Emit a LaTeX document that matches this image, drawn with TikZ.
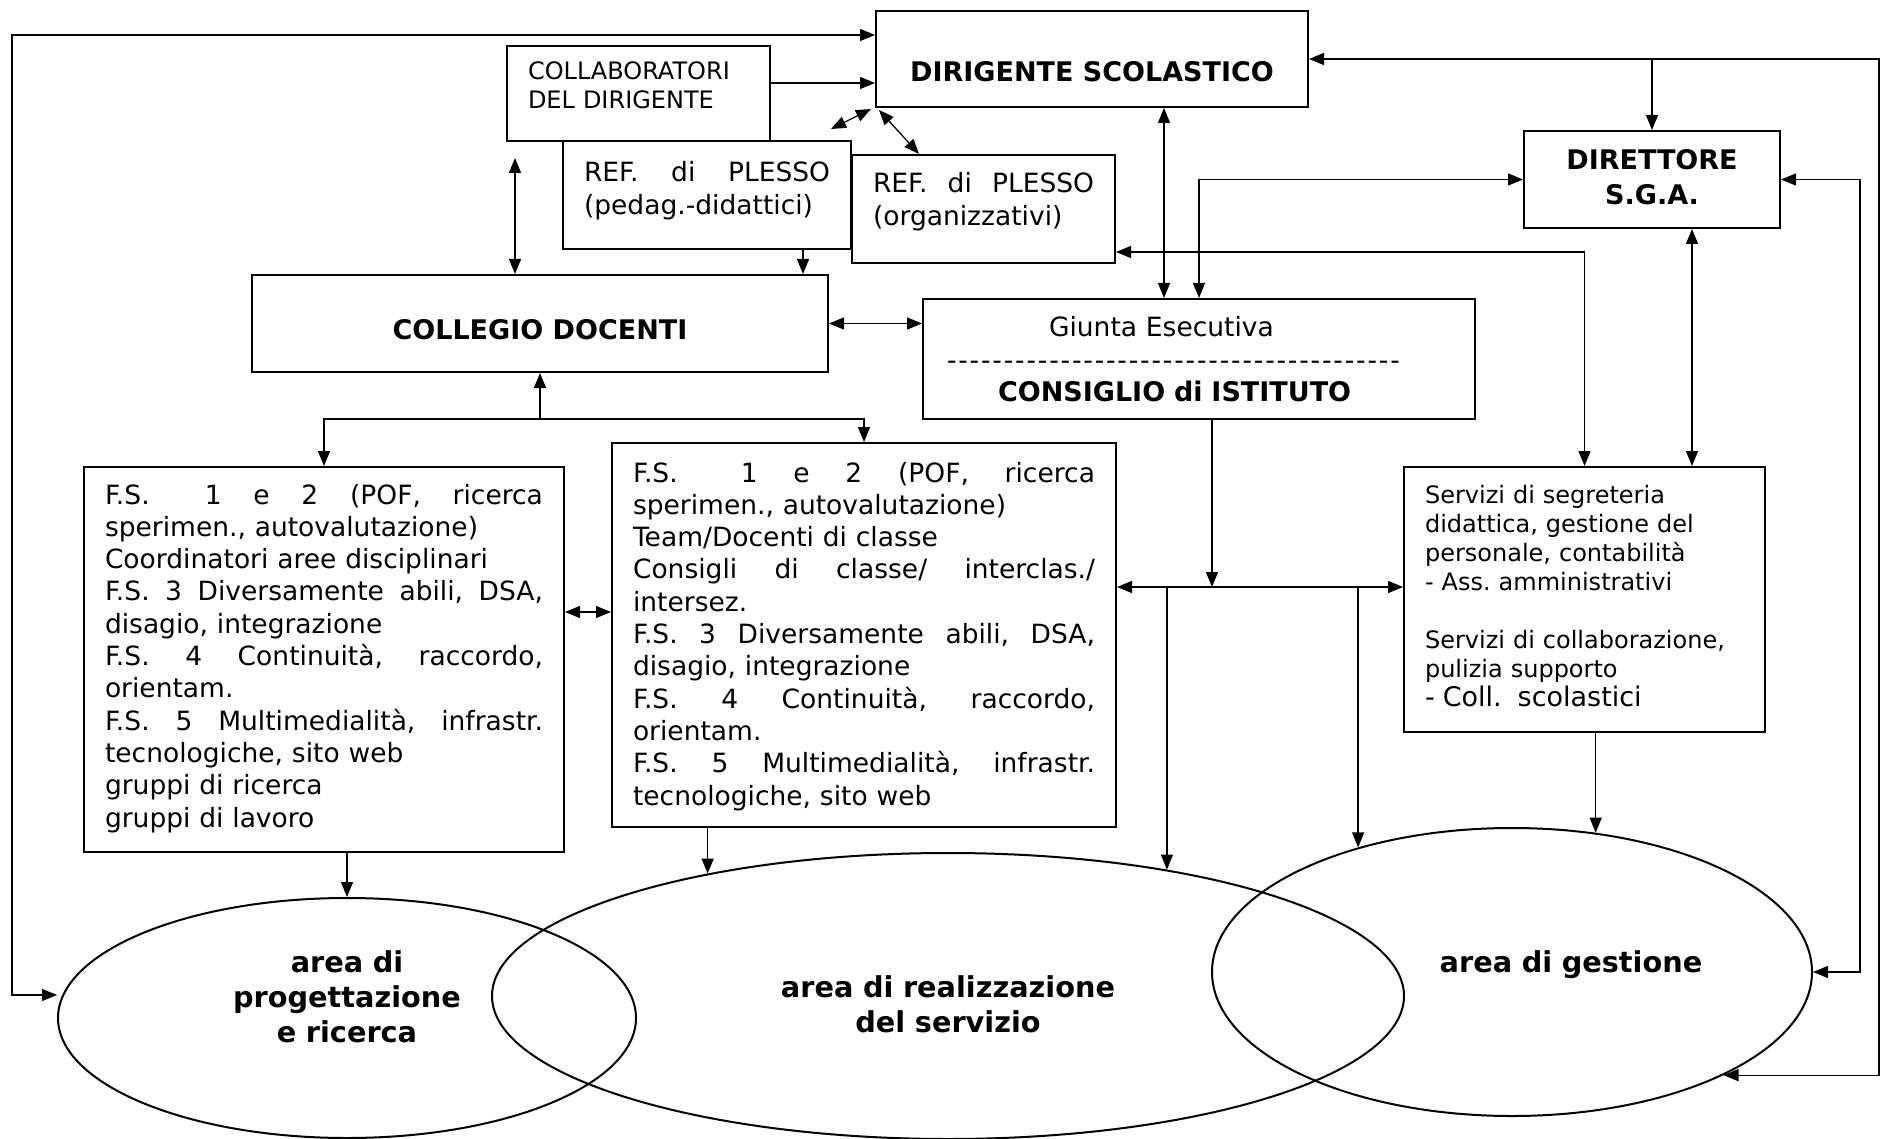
\documentclass[tikz,border=0pt]{standalone}
\usepackage{fontspec}
\setmainfont{DejaVu Sans}
\usetikzlibrary{arrows.meta,shapes.geometric,calc}
\frenchspacing

\tikzset{every picture/.style={line width=1.3pt}}
\tikzset{
  box/.style={draw, line width=2pt, rectangle, inner ysep=0pt, inner xsep=21pt, align=left,
    font=\fontsize{26.5}{32.3}\selectfont},
  head/.style={font=\fontsize{27}{35}\selectfont\bfseries},
  small/.style={font=\fontsize{24}{29}\selectfont},
  area/.style={draw, line width=2pt, ellipse, inner sep=0pt, align=center,
    font=\fontsize{28.75}{35}\selectfont\bfseries},
  arr/.style={-{Triangle[length=15pt,width=12pt]}},
  darr/.style={{Triangle[length=15pt,width=12pt]}-{Triangle[length=15pt,width=12pt]}},
}
% justified line of a given width
\newcommand{\jline}[2]{\makebox[#1][s]{\spaceskip=0.318em plus 1fil\xspaceskip=\spaceskip\relax #2}}
\newcommand{\wide}{\hspace{0pt plus 1fil}}
\newcommand{\dfive}{-\kern1.8pt-\kern1.8pt-\kern1.8pt-\kern1.8pt-\kern1.8pt}
\newcommand{\dashrow}{\leavevmode\dfive\dfive\dfive\dfive\dfive\dfive\dfive\dfive}

\begin{document}
\begin{tikzpicture}[x=1pt,y=1pt,yscale=-1,xscale=1]
\useasboundingbox (0,0) rectangle (1881,1139);

% boxes
\node[box, head, minimum width=432pt, text height=71pt, text depth=25pt] (dir) at (1092,59) {DIRIGENTE SCOLASTICO};
\node[box, small, text width=221pt, text height=34pt, text depth=61pt] (collab) at (638.5,93.5) {COLLABORATORI\\DEL DIRIGENTE};
\node[box, text width=246pt, text height=41pt, text depth=67pt, font=\fontsize{26.5}{33}\selectfont] (refped) at (707,195) {\jline{246pt}{REF. di PLESSO}\\(pedag.-didattici)};
\node[box, text width=221pt, text height=38pt, text depth=70pt, font=\fontsize{26.5}{33}\selectfont] (reforg) at (983.5,209) {\jline{221pt}{REF. di PLESSO}\\(organizzativi)};
\node[box, head, align=center, text width=214pt, text height=39pt, text depth=58pt] (dsga) at (1652,179.5) {DIRETTORE\\S.G.A.};
\node[box, head, minimum width=576pt, text height=65pt, text depth=32pt] (collegio) at (540,323.5) {COLLEGIO DOCENTI};
\node[box, inner xsep=24pt, text width=504pt, text height=38pt, text depth=82pt, font=\fontsize{26.5}{32.5}\selectfont] (giunta) at (1199,359)
  {\hspace*{102pt}Giunta Esecutiva\\ \dashrow\\ \hspace*{51pt}{\fontsize{27}{32.5}\selectfont\bfseries CONSIGLIO di ISTITUTO}};
\node[box, text width=438pt, text height=37pt, text depth=348pt] (fs1) at (324,659.5) {%
  \jline{438pt}{F.S.\wide{} 1 e 2 (POF, ricerca}\\
  sperimen., autovalutazione)\\
  Coordinatori aree disciplinari\\
  \jline{438pt}{F.S. 3 Diversamente abili, DSA,}\\
  disagio, integrazione\\
  \jline{438pt}{F.S. 4 Continuità, raccordo,}\\
  orientam.\\
  \jline{438pt}{F.S. 5 Multimedialità, infrastr.}\\
  tecnologiche, sito web\\
  gruppi di ricerca\\
  gruppi di lavoro};
\node[box, text width=462pt, text height=39pt, text depth=345pt] (fs2) at (864,635) {%
  \jline{462pt}{F.S.\wide{} 1 e 2 (POF, ricerca}\\
  sperimen., autovalutazione)\\
  Team/Docenti di classe\\
  \jline{462pt}{Consigli di classe/ interclas./}\\
  intersez.\\
  \jline{462pt}{F.S. 3 Diversamente abili, DSA,}\\
  disagio, integrazione\\
  \jline{462pt}{F.S. 4 Continuità, raccordo,}\\
  orientam.\\
  \jline{462pt}{F.S. 5 Multimedialità, infrastr.}\\
  tecnologiche, sito web};
\node[box, small, text width=319pt, text height=36pt, text depth=229pt] (serv) at (1584.5,599.5) {%
  Servizi di segreteria\\
  didattica, gestione del\\
  personale, contabilità\\
  - Ass. amministrativi\\[29pt]
  Servizi di collaborazione,\\
  pulizia supporto\\
  {\fontsize{27}{29}\selectfont - Coll.~~scolastici}};

% areas
\node[area, minimum width=578pt, minimum height=240pt, text width=300pt, text height=20pt, text depth=112pt] (ell1) at (347,1018) {area di\\progettazione\\e ricerca};
\node[area, minimum width=912pt, minimum height=286pt, text width=400pt, text height=40pt, text depth=38pt] (ell2) at (948,996) {area di realizzazione\\del servizio};
\node[area, minimum width=600pt, minimum height=288pt, text width=416pt, text height=30pt, text depth=30pt] (ell3) at (1512,972) {\hspace*{118pt}area di gestione};

% outer loops
\coordinate (lt) at (12,35);
\coordinate (lb) at (12,995);
\draw[darr] (lt -| dir.west) -- (lt) -- (lb) -- (lb -| ell1.west);
\coordinate (rt) at (1879,59);
\coordinate (rb) at (ell3.-26 -| rt);
\draw[darr] (dir.east) -- (rt) -- (rb) -- (ell3.-26);
\draw[arr] (dsga.north |- dir.east) -- (dsga.north);
\draw[darr] (dsga.east) -| ($(ell3.east)+(47,0)$) -- (ell3.east);

% top cluster
\draw[arr] (collab.east |- 0,83) -- (dir.west |- 0,83);
\draw[darr] ($(dir.south west)+(-4,1)$) -- ($(refped.north east)+(-21,-11)$);
\draw[darr] ($(dir.south west)+(4,2)$) -- ($(reforg.north west)+(68,0)$);
\coordinate (cv) at ($(collab.south west)+(9,16)$);
\draw[darr] (cv) -- (cv |- collegio.north);
\draw[arr] (refped.south -| 803,0) -- (collegio.north -| 803,0);
\draw[darr] (dir.south -| 1164,0) -- (giunta.north -| 1164,0);
\draw[darr] (giunta.north) |- (dsga.west);
\draw[darr] (collegio.east) -- (collegio.east -| giunta.west);
\draw[darr] (reforg.east |- 0,252) -| (serv.north);
\draw[darr] (dsga.south -| 1692,0) -- (serv.north -| 1692,0);

% middle
\coordinate (split) at (collegio.south |- 0,419);
\draw[arr] (split) -- (collegio.south);
\draw[arr] (split) -| (fs1.north);
\draw[arr] (split) -| (fs2.north);
\draw[darr] (fs1.east |- 0,612) -- (fs2.west |- 0,612);
\coordinate (hub) at (1212,587);
\draw[arr] (giunta.south -| hub) -- (hub);
\draw[darr] (fs2.east |- hub) -- (serv.west |- hub);

% down to the areas
\draw[arr] (ell2.30 |- hub) -- (ell2.30);
\draw[arr] (ell3.141 |- hub) -- (ell3.141);
\draw[arr] (ell1.north |- fs1.south) -- (ell1.north);
\draw[arr] (ell2.153 |- fs2.south) -- (ell2.153);
\draw[arr] (ell3.59 |- serv.south) -- (ell3.59);
\end{tikzpicture}
\end{document}
